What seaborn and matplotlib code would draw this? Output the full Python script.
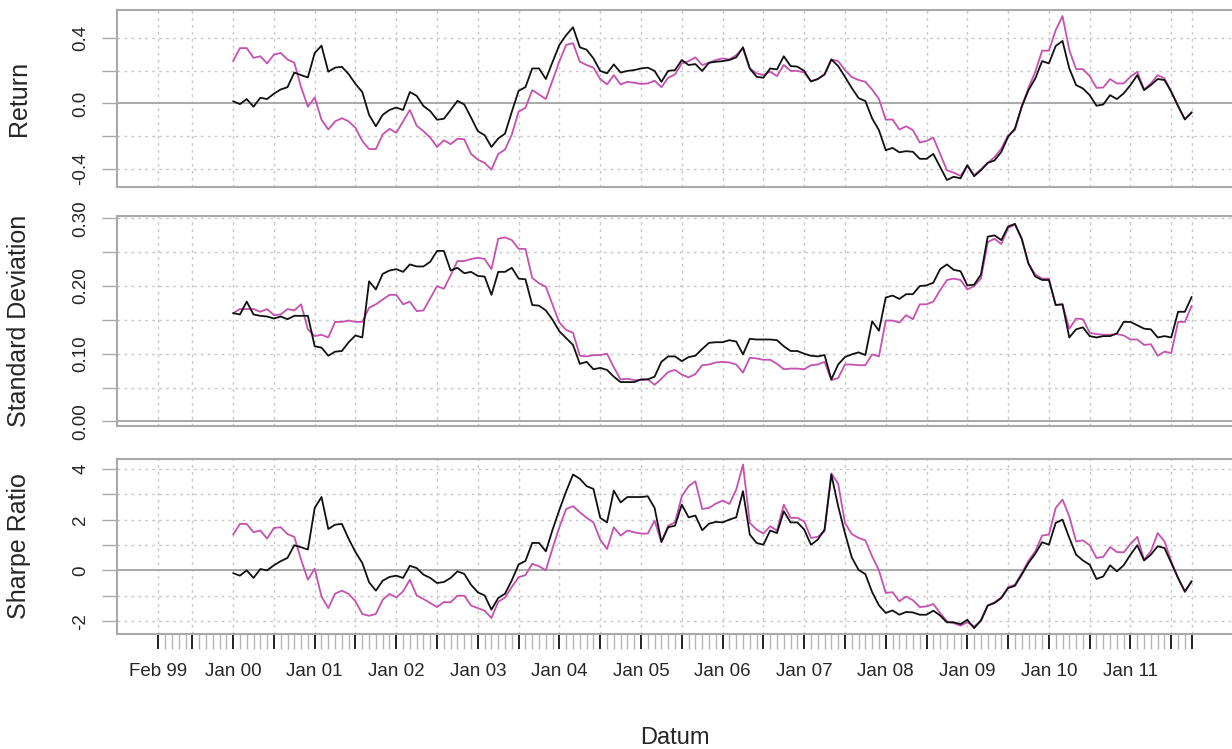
import numpy as np
import pandas as pd
import matplotlib
matplotlib.use('Agg')
import matplotlib.pyplot as plt
import seaborn as sns

# monthly axis, Feb 99 .. Oct 11 ; values start in Jan 00 (rolling window)
months = pd.date_range('1999-02-01', '2011-10-01', freq='MS')
first = 11

ret_black = [0.014, -0.004, 0.027, -0.02, 0.035, 0.027, 0.06, 0.086, 0.10, 0.19, 0.174, 0.16,
             0.31, 0.355, 0.195, 0.22, 0.225, 0.18, 0.12, 0.07, -0.07, -0.14, -0.07, -0.04,
             -0.025, -0.04, 0.07, 0.047, -0.016, -0.047, -0.10, -0.094, -0.04, 0.016, -0.006, -0.086,
             -0.17, -0.195, -0.267, -0.215, -0.185, -0.05, 0.078, 0.10, 0.215, 0.215, 0.15, 0.256,
             0.36, 0.42, 0.468, 0.345, 0.33, 0.277, 0.20, 0.185, 0.24, 0.19, 0.20, 0.205,
             0.215, 0.22, 0.20, 0.133, 0.20, 0.205, 0.267, 0.236, 0.242, 0.20, 0.25, 0.256,
             0.26, 0.267, 0.283, 0.345, 0.215, 0.164, 0.158, 0.215, 0.209, 0.29, 0.23, 0.226,
             0.20, 0.135, 0.15, 0.178, 0.27, 0.23, 0.164, 0.095, 0.033, 0.015, -0.092, -0.164,
             -0.287, -0.273, -0.30, -0.293, -0.297, -0.34, -0.34, -0.31, -0.39, -0.47, -0.45, -0.46,
             -0.38, -0.447, -0.41, -0.365, -0.35, -0.297, -0.205, -0.154, -0.02, 0.082, 0.154, 0.26,
             0.246, 0.353, 0.384, 0.215, 0.113, 0.092, 0.051, -0.014, -0.006, 0.051, 0.027, 0.062,
             0.113, 0.174, 0.082, 0.113, 0.15, 0.144, 0.072, -0.016, -0.098, -0.055]
ret_pink = [0.26, 0.34, 0.34, 0.28, 0.29, 0.246, 0.30, 0.31, 0.27, 0.25, 0.10, -0.02,
            0.037, -0.10, -0.16, -0.11, -0.09, -0.11, -0.15, -0.23, -0.28, -0.28, -0.19, -0.156,
            -0.18, -0.11, -0.04, -0.137, -0.17, -0.21, -0.267, -0.226, -0.25, -0.217, -0.22, -0.31,
            -0.345, -0.365, -0.406, -0.31, -0.283, -0.19, -0.05, -0.027, 0.082, 0.055, 0.027, 0.144,
            0.26, 0.36, 0.37, 0.256, 0.236, 0.22, 0.15, 0.117, 0.174, 0.117, 0.133, 0.127,
            0.12, 0.123, 0.14, 0.10, 0.158, 0.178, 0.246, 0.26, 0.283, 0.236, 0.25, 0.267,
            0.277, 0.27, 0.297, 0.338, 0.215, 0.185, 0.174, 0.195, 0.168, 0.236, 0.20, 0.20,
            0.19, 0.137, 0.15, 0.18, 0.27, 0.26, 0.205, 0.162, 0.144, 0.133, 0.085, 0.028,
            -0.10, -0.098, -0.16, -0.14, -0.164, -0.24, -0.23, -0.21, -0.31, -0.41, -0.425, -0.445,
            -0.38, -0.44, -0.405, -0.365, -0.33, -0.277, -0.195, -0.164, -0.02, 0.096, 0.195, 0.324,
            0.324, 0.45, 0.537, 0.328, 0.211, 0.211, 0.168, 0.096, 0.098, 0.15, 0.123, 0.123,
            0.164, 0.195, 0.086, 0.123, 0.174, 0.154, 0.072, -0.016, -0.098, -0.055]

sd_black = [0.160, 0.158, 0.177, 0.158, 0.156, 0.155, 0.152, 0.155, 0.151, 0.156, 0.156, 0.156,
            0.111, 0.109, 0.097, 0.103, 0.104, 0.117, 0.127, 0.124, 0.207, 0.195, 0.218, 0.223,
            0.225, 0.221, 0.232, 0.229, 0.229, 0.236, 0.252, 0.252, 0.223, 0.227, 0.219, 0.221,
            0.215, 0.214, 0.187, 0.221, 0.221, 0.227, 0.211, 0.210, 0.172, 0.171, 0.164, 0.150,
            0.133, 0.123, 0.113, 0.085, 0.088, 0.077, 0.079, 0.076, 0.066, 0.058, 0.058, 0.058,
            0.062, 0.062, 0.066, 0.088, 0.096, 0.096, 0.089, 0.095, 0.097, 0.107, 0.116, 0.117,
            0.117, 0.120, 0.118, 0.099, 0.122, 0.121, 0.121, 0.121, 0.120, 0.111, 0.104, 0.104,
            0.100, 0.097, 0.096, 0.098, 0.062, 0.084, 0.095, 0.099, 0.102, 0.098, 0.148, 0.134,
            0.183, 0.186, 0.181, 0.188, 0.188, 0.200, 0.201, 0.205, 0.225, 0.232, 0.224, 0.222,
            0.201, 0.202, 0.217, 0.273, 0.275, 0.268, 0.288, 0.292, 0.270, 0.233, 0.214, 0.209,
            0.209, 0.172, 0.173, 0.124, 0.136, 0.139, 0.126, 0.124, 0.126, 0.126, 0.130, 0.147,
            0.147, 0.142, 0.137, 0.136, 0.124, 0.126, 0.124, 0.162, 0.162, 0.184]
sd_pink = [0.160, 0.166, 0.166, 0.166, 0.162, 0.166, 0.157, 0.158, 0.166, 0.164, 0.173, 0.136,
           0.126, 0.128, 0.124, 0.147, 0.147, 0.149, 0.147, 0.147, 0.168, 0.173, 0.180, 0.187,
           0.187, 0.173, 0.177, 0.163, 0.164, 0.182, 0.200, 0.196, 0.216, 0.237, 0.237, 0.240,
           0.242, 0.240, 0.225, 0.270, 0.272, 0.268, 0.255, 0.255, 0.212, 0.204, 0.199, 0.172,
           0.146, 0.135, 0.131, 0.097, 0.096, 0.098, 0.098, 0.100, 0.080, 0.062, 0.063, 0.061,
           0.061, 0.062, 0.054, 0.063, 0.073, 0.076, 0.069, 0.065, 0.070, 0.083, 0.084, 0.087,
           0.088, 0.087, 0.084, 0.072, 0.094, 0.093, 0.091, 0.091, 0.085, 0.077, 0.078, 0.078,
           0.077, 0.083, 0.084, 0.088, 0.061, 0.064, 0.084, 0.084, 0.083, 0.083, 0.099, 0.096,
           0.149, 0.149, 0.146, 0.157, 0.151, 0.173, 0.173, 0.177, 0.194, 0.209, 0.211, 0.209,
           0.195, 0.200, 0.211, 0.265, 0.270, 0.262, 0.286, 0.291, 0.270, 0.233, 0.217, 0.211,
           0.211, 0.172, 0.173, 0.137, 0.152, 0.151, 0.131, 0.129, 0.128, 0.128, 0.129, 0.127,
           0.121, 0.121, 0.113, 0.114, 0.097, 0.103, 0.101, 0.147, 0.147, 0.171]

sr_black = [-0.11, -0.21, 0.0, -0.30, 0.05, 0.0, 0.20, 0.36, 0.49, 0.99, 0.91, 0.82,
            2.46, 2.89, 1.63, 1.80, 1.83, 1.24, 0.72, 0.29, -0.47, -0.80, -0.41, -0.26,
            -0.21, -0.30, 0.18, 0.09, -0.17, -0.30, -0.50, -0.46, -0.30, -0.04, -0.14, -0.57,
            -0.87, -0.99, -1.55, -1.09, -0.92, -0.39, 0.23, 0.37, 1.08, 1.08, 0.75, 1.61,
            2.39, 3.12, 3.78, 3.61, 3.32, 3.21, 2.07, 1.89, 3.14, 2.68, 2.89, 2.89,
            2.89, 2.92, 2.46, 1.12, 1.70, 1.76, 2.59, 2.09, 2.16, 1.58, 1.84, 1.91,
            1.89, 2.0, 2.09, 3.12, 1.41, 1.08, 1.01, 1.57, 1.47, 2.33, 1.89, 1.89,
            1.61, 1.01, 1.21, 1.61, 3.78, 2.53, 1.47, 0.51, 0.02, -0.15, -0.86, -1.38,
            -1.68, -1.58, -1.75, -1.64, -1.66, -1.75, -1.75, -1.59, -1.78, -2.05, -2.05, -2.12,
            -1.95, -2.28, -1.97, -1.39, -1.29, -1.09, -0.70, -0.61, -0.17, 0.29, 0.66, 1.11,
            1.01, 1.87, 2.0, 1.28, 0.62, 0.39, 0.22, -0.34, -0.24, 0.20, -0.04, 0.20,
            0.62, 0.99, 0.39, 0.62, 0.95, 0.88, 0.29, -0.30, -0.83, -0.43]
sr_pink = [1.41, 1.83, 1.83, 1.50, 1.57, 1.25, 1.67, 1.70, 1.43, 1.32, 0.42, -0.37,
           0.07, -1.03, -1.49, -0.92, -0.80, -0.93, -1.22, -1.72, -1.79, -1.72, -1.16, -0.93,
           -1.07, -0.83, -0.37, -0.99, -1.13, -1.29, -1.45, -1.25, -1.26, -1.0, -1.0, -1.39,
           -1.49, -1.59, -1.88, -1.24, -1.07, -0.65, -0.27, -0.19, 0.26, 0.16, 0.0, 0.88,
           1.71, 2.42, 2.53, 2.29, 2.07, 1.89, 1.21, 0.84, 1.70, 1.37, 1.57, 1.50,
           1.45, 1.45, 1.96, 1.11, 1.76, 1.89, 2.92, 3.32, 3.51, 2.42, 2.46, 2.63,
           2.75, 2.62, 3.18, 4.17, 1.87, 1.61, 1.45, 1.74, 1.57, 2.59, 2.07, 2.07,
           1.93, 1.28, 1.32, 1.54, 3.82, 3.42, 1.87, 1.43, 1.28, 1.18, 0.55, 0.0,
           -0.89, -0.86, -1.22, -1.03, -1.18, -1.45, -1.42, -1.33, -1.68, -2.01, -2.08, -2.18,
           -2.05, -2.21, -2.01, -1.39, -1.26, -1.07, -0.66, -0.57, -0.11, 0.38, 0.75, 1.37,
           1.41, 2.46, 2.79, 2.13, 1.14, 1.18, 0.99, 0.49, 0.53, 0.92, 0.72, 0.71,
           1.04, 1.32, 0.42, 0.75, 1.47, 1.14, 0.36, -0.30, -0.86, -0.43]

sns.set_theme(style='white')
plt.rcParams['font.family'] = ['Liberation Sans', 'DejaVu Sans']

W, H = 1232, 749
fig = plt.figure(figsize=(W / 100, H / 100), dpi=100)

frame_col = '#a9a9a9'
grid_col = '#c8c8c8'
palette = {'pink': '#c651b1', 'black': '#111111'}

# (label, black, pink, top px, bottom px, ylim, labelled ticks, tick texts, minor ticks)
panels = [
    ('Return', ret_black, ret_pink, 10, 187, (-0.513, 0.574),
     [-0.4, 0.0, 0.4], ['-0.4', '0.0', '0.4'], [-0.2, 0.2]),
    ('Standard Deviation', sd_black, sd_pink, 216, 426, (-0.0069, 0.3036),
     [0.0, 0.1, 0.2, 0.3], ['0.00', '0.10', '0.20', '0.30'], [0.05, 0.15, 0.25]),
    ('Sharpe Ratio', sr_black, sr_pink, 459, 634, (-2.51, 4.39),
     [-2, 0, 2, 4], ['-2', '0', '2', '4'], [-1, 1, 3]),
]

n_all = len(months)
grid_idx = [0] + [i for i, d in enumerate(months) if d.month in (1, 7)] + [n_all - 1]
label_idx = [0] + [i for i, d in enumerate(months) if d.month == 1]
pad = 0.04 * (n_all - 1)

for k, (name, blk, pnk, top, bot, ylim, yt, ytl, ymin) in enumerate(panels):
    ax = fig.add_axes([117 / W, 1 - bot / H, (1233 - 117) / W, (bot - top) / H])
    x = np.arange(first, first + len(blk))
    df = pd.DataFrame({'idx': np.r_[x, x],
                       'value': list(pnk) + list(blk),
                       'series': ['pink'] * len(pnk) + ['black'] * len(blk)})
    sns.lineplot(data=df, x='idx', y='value', hue='series', palette=palette,
                 hue_order=['pink', 'black'], legend=False, ax=ax,
                 linewidth=1.3, errorbar=None, sort=False)

    ax.set_xlim(-pad, n_all - 1 + pad)
    ax.set_ylim(*ylim)
    ax.axhline(0, color=frame_col, lw=1.4, zorder=1)

    ax.set_yticks(yt)
    ax.set_yticklabels(ytl, rotation=90, va='center')
    ax.set_yticks(ymin, minor=True)
    ax.tick_params(axis='y', which='both', direction='out', length=11, width=1,
                   color=frame_col, labelsize=13.5, pad=9, left=True)
    for v in list(yt) + list(ymin):
        if v != 0:
            ax.axhline(v, color=grid_col, lw=1, ls=(0, (2, 3)), zorder=0)
    for i in grid_idx:
        ax.axvline(i, color=grid_col, lw=1, ls=(0, (2, 3)), zorder=0)

    ax.set_xlabel('')
    ax.set_ylabel('')
    for s in ax.spines.values():
        s.set_color(frame_col)
        s.set_linewidth(1.5)

    if k < 2:
        ax.set_xticks([])
    else:
        ax.set_xticks(grid_idx)
        ax.set_xticklabels([f"{months[i]:%b %y}" if i in label_idx else '' for i in grid_idx])
        ax.set_xticks([i for i in range(n_all) if i not in grid_idx], minor=True)
        ax.tick_params(axis='x', which='major', direction='out', length=11, width=1.4,
                       color='#222222', labelsize=13.5, pad=10, bottom=True)
        ax.tick_params(axis='x', which='minor', direction='out', length=11, width=1,
                       color='#b5b5b5', bottom=True)

    fig.text(19 / W, 1 - (top + bot) / 2 / H, name, rotation=90, ha='center',
             va='center', fontsize=18)

fig.text(675 / W, 1 - 738 / H, 'Datum', ha='center', va='center', fontsize=17)

fig.savefig('out.png', dpi=100)
